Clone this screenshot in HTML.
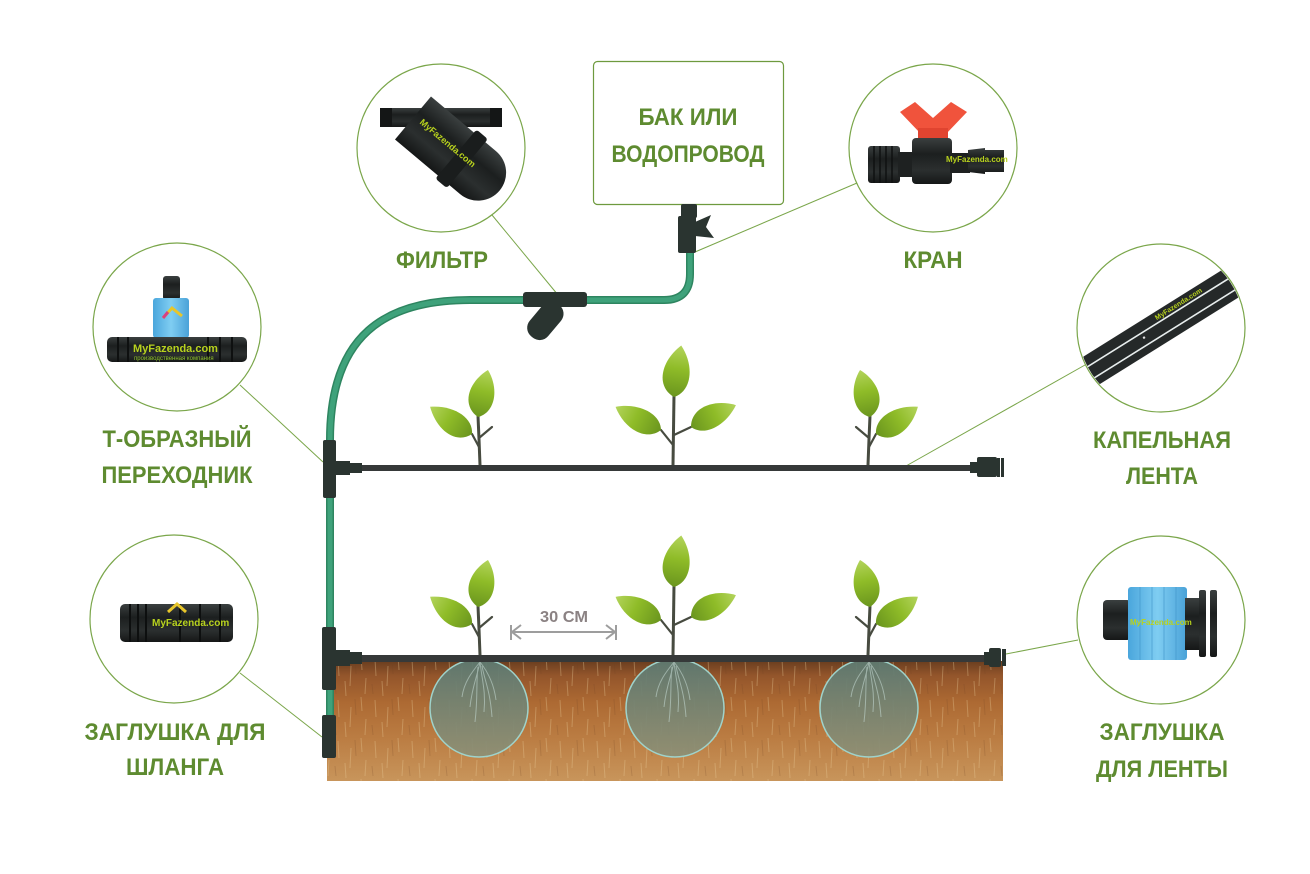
<!DOCTYPE html>
<html><head><meta charset="utf-8"><style>
html,body{margin:0;padding:0;background:#fff;}
svg{display:block;}
.lb{font-family:"Liberation Sans","DejaVu Sans",sans-serif;font-weight:bold;font-size:24px;fill:#5e8b30;}
.lg{font-family:"Liberation Sans","DejaVu Sans",sans-serif;font-weight:bold;fill:#b8d21e;}
</style></head><body>
<svg width="1310" height="874" viewBox="0 0 1310 874" xmlns="http://www.w3.org/2000/svg">
<defs>
<linearGradient id="soil" x1="0" y1="0" x2="0" y2="1">
<stop offset="0" stop-color="#6a3e1f"/>
<stop offset="0.12" stop-color="#93552b"/>
<stop offset="0.35" stop-color="#ad6a33"/>
<stop offset="0.65" stop-color="#bb7d43"/>
<stop offset="1" stop-color="#c8955b"/>
</linearGradient>
<linearGradient id="leaf" x1="0" y1="0" x2="1" y2="0">
<stop offset="0" stop-color="#6a951e"/>
<stop offset="0.55" stop-color="#8fbc28"/>
<stop offset="1" stop-color="#b3d45c"/>
</linearGradient>
<linearGradient id="wet" x1="0" y1="0" x2="0" y2="1">
<stop offset="0" stop-color="#5d7a72"/>
<stop offset="1" stop-color="#8e8f74"/>
</linearGradient>
<linearGradient id="blk" x1="0" y1="0" x2="0" y2="1">
<stop offset="0" stop-color="#3a3f3f"/>
<stop offset="0.35" stop-color="#1c1f1f"/>
<stop offset="0.7" stop-color="#2b2f2f"/>
<stop offset="1" stop-color="#151717"/>
</linearGradient>
<linearGradient id="blue" x1="0" y1="0" x2="1" y2="0">
<stop offset="0" stop-color="#4aa6dc"/>
<stop offset="0.5" stop-color="#7fcdf2"/>
<stop offset="1" stop-color="#4aa2d8"/>
</linearGradient>
<pattern id="streak" width="37" height="41" patternUnits="userSpaceOnUse">
<path d="M5 3 L6 20 M18 10 L17 30 M28 0 L29 14 M12 25 L13 40 M33 22 L32 38" stroke="#e8cc98" stroke-width="1" opacity="0.35"/>
<path d="M22 2 L23 18 M2 28 L3 38" stroke="#6a3e1f" stroke-width="1" opacity="0.2"/>
</pattern>
<clipPath id="c4"><circle cx="1161" cy="328" r="83"/></clipPath>

<g id="pS">
<path d="M-1 -18 L-8 -31 M-1 -27 L12 -38" stroke="#474b40" stroke-width="2.2" fill="none" stroke-linecap="round"/>
<path d="M0 0 L-1 -26 L-2 -49" stroke="#474b40" stroke-width="3" fill="none"/>
<g transform="translate(-8,-31) rotate(-147)"><path d="M0 0 C8 -18 32 -16 50 0 C32 14 8 15 0 0Z" fill="url(#leaf)"/></g>
<g transform="translate(-2,-48) rotate(-78)"><path d="M0 0 C8 -19 32 -17 48 0 C32 15 8 16 0 0Z" fill="url(#leaf)"/></g>
</g>
<g id="pM">
<path d="M0 -20 L-12 -35 M1 -30 L18 -38" stroke="#474b40" stroke-width="2.2" fill="none" stroke-linecap="round"/>
<path d="M0 0 L1 -70" stroke="#474b40" stroke-width="3" fill="none"/>
<g transform="translate(1,-68) rotate(-82)"><path d="M0 0 C8 -20 34 -18 52 0 C34 16 8 17 0 0Z" fill="url(#leaf)"/></g>
<g transform="translate(-12,-35) rotate(-153)"><path d="M0 0 C8 -17 33 -16 51 0 C33 14 8 15 0 0Z" fill="url(#leaf)"/></g>
<g transform="translate(18,-38) rotate(-26)"><path d="M0 0 C8 -17 32 -16 50 0 C32 14 8 15 0 0Z" fill="url(#leaf)"/></g>
</g>
<g id="roots" stroke="#c2d6cf" stroke-width="1" fill="none" opacity="0.6">
<path d="M0 0 C-3 15 -8 25 -10 45 M0 0 C2 18 6 30 4 50 M0 0 C-8 10 -16 20 -18 35 M0 0 C8 10 14 22 16 38 M-2 5 C-4 20 -2 35 -5 60 M2 4 C5 20 10 28 12 55"/>
</g>
</defs>

<!-- Product circles -->
<g fill="#fff" stroke="#7aa64a" stroke-width="1.2">
<circle cx="441" cy="148" r="84"/>
<circle cx="933" cy="148" r="84"/>
<circle cx="177" cy="327" r="84"/>
<circle cx="1161" cy="328" r="84"/>
<circle cx="174" cy="619" r="84"/>
<circle cx="1161" cy="620" r="84"/>
</g>

<!-- Leader lines -->
<g stroke="#7aa64a" stroke-width="1" fill="none">
<line x1="492" y1="215" x2="558" y2="295"/>
<line x1="857" y1="183" x2="695" y2="252"/>
<line x1="240" y1="385" x2="323" y2="462"/>
<line x1="1085" y1="365" x2="906" y2="466"/>
<line x1="240" y1="673" x2="322" y2="737"/>
<line x1="1078" y1="640" x2="1006" y2="654"/>
</g>

<!-- Tank box -->
<rect x="593.5" y="61.5" width="190" height="143" rx="4" fill="#fff" stroke="#6e9a3e" stroke-width="1.2"/>

<!-- Labels -->
<g class="lb" text-anchor="middle">
<text x="442" y="268" textLength="92" lengthAdjust="spacingAndGlyphs">ФИЛЬТР</text>
<text x="688" y="125" textLength="99" lengthAdjust="spacingAndGlyphs">БАК ИЛИ</text>
<text x="688" y="162" textLength="153" lengthAdjust="spacingAndGlyphs">ВОДОПРОВОД</text>
<text x="933" y="268" textLength="59" lengthAdjust="spacingAndGlyphs">КРАН</text>
<text x="1162" y="448" textLength="138" lengthAdjust="spacingAndGlyphs">КАПЕЛЬНАЯ</text>
<text x="1162" y="484" textLength="72" lengthAdjust="spacingAndGlyphs">ЛЕНТА</text>
<text x="177" y="447" textLength="149" lengthAdjust="spacingAndGlyphs">Т-ОБРАЗНЫЙ</text>
<text x="177" y="483" textLength="151" lengthAdjust="spacingAndGlyphs">ПЕРЕХОДНИК</text>
<text x="175" y="740" textLength="181" lengthAdjust="spacingAndGlyphs">ЗАГЛУШКА ДЛЯ</text>
<text x="175" y="775" textLength="98" lengthAdjust="spacingAndGlyphs">ШЛАНГА</text>
<text x="1162" y="740" textLength="125" lengthAdjust="spacingAndGlyphs">ЗАГЛУШКА</text>
<text x="1162" y="777" textLength="132" lengthAdjust="spacingAndGlyphs">ДЛЯ ЛЕНТЫ</text>
</g>

<!-- Filter product -->
<g>
<rect x="380" y="108" width="122" height="19" rx="3" fill="url(#blk)"/>
<rect x="380" y="108" width="12" height="19" fill="#141616"/>
<rect x="490" y="108" width="12" height="19" fill="#141616"/>
<g transform="translate(413,118) rotate(40)">
<path d="M0 -28 L85 -28 A28 28 0 0 1 85 28 L0 28 Z" fill="url(#blk)"/>
<rect x="56" y="-32" width="15" height="64" rx="3" fill="#1a1d1d"/>
<text x="8" y="0" class="lg" font-size="9">MyFazenda.com</text>
</g>
</g>

<!-- Tap product -->
<g>
<path d="M900 112 L915 102 L933 118 L951 102 L967 112 L946 134 L921 134 Z" fill="#f0533c"/>
<rect x="918" y="128" width="30" height="12" fill="#e04430"/>
<rect x="868" y="146" width="32" height="37" rx="3" fill="url(#blk)"/>
<path d="M874 146 V183 M880 146 V183 M886 146 V183 M892 146 V183" stroke="#0f1111" stroke-width="1.5"/>
<rect x="898" y="152" width="16" height="25" fill="#1e2121"/>
<rect x="912" y="138" width="40" height="46" rx="4" fill="url(#blk)"/>
<rect x="950" y="153" width="20" height="20" fill="#1e2121"/>
<path d="M968 150 L985 148 L985 174 L968 172 Z M984 150 L1004 150 L1004 172 L984 172 Z" fill="url(#blk)"/>
<text x="946" y="162" class="lg" font-size="8">MyFazenda.com</text>
</g>

<!-- T-adapter product -->
<g>
<rect x="163" y="276" width="17" height="24" rx="3" fill="url(#blk)"/>
<rect x="153" y="298" width="36" height="40" rx="3" fill="url(#blue)"/>
<rect x="107" y="337" width="140" height="25" rx="5" fill="url(#blk)"/>
<path d="M118 337 V362 M128 337 V362 M208 337 V362 M220 337 V362 M232 337 V362" stroke="#0e1010" stroke-width="2"/>
<path d="M163 318 L172 308 L182 316" stroke="#e8c62a" stroke-width="3" fill="none"/>
<path d="M163 318 L168 312" stroke="#d94080" stroke-width="3"/>
<text x="133" y="352" class="lg" font-size="11" fill="#8fc12c">MyFazenda.com</text>
<text x="134" y="360" font-family="Liberation Sans, sans-serif" font-size="6" fill="#8fc12c">производственная компания</text>
</g>

<!-- Drip tape product -->
<g clip-path="url(#c4)">
<g transform="translate(1161,327) rotate(-32)">
<rect x="-130" y="-16" width="260" height="32" fill="#252929"/>
<rect x="-130" y="-6" width="260" height="1.6" fill="#e8eeee"/>
<rect x="-130" y="7" width="260" height="1.6" fill="#e8eeee"/>
<circle cx="-20" cy="0" r="1.2" fill="#ddd"/>
<text x="0" y="-8" class="lg" font-size="7">MyFazenda.com</text>
</g>
</g>

<!-- Hose plug product -->
<g>
<rect x="120" y="604" width="113" height="38" rx="5" fill="url(#blk)"/>
<path d="M130 604 V642 M138 604 V642 M146 604 V642 M180 604 V642 M200 604 V642 M220 604 V642" stroke="#0d0f0f" stroke-width="2"/>
<path d="M168 612 L177 604 L186 612" stroke="#e8c62a" stroke-width="3" fill="none"/>
<text x="152" y="626" class="lg" font-size="10" fill="#8fc12c">MyFazenda.com</text>
</g>

<!-- Tape plug product -->
<g>
<rect x="1103" y="600" width="28" height="40" rx="4" fill="url(#blk)"/>
<rect x="1128" y="587" width="59" height="73" rx="3" fill="url(#blue)"/>
<path d="M1140 587 V660 M1152 587 V660 M1164 587 V660 M1176 587 V660" stroke="#3f93c8" stroke-width="1" opacity="0.6"/>
<rect x="1185" y="598" width="16" height="52" fill="url(#blk)"/>
<rect x="1199" y="590" width="7" height="67" rx="2" fill="url(#blk)"/>
<rect x="1210" y="590" width="7" height="67" rx="2" fill="url(#blk)"/>
<text x="1130" y="625" class="lg" font-size="8" fill="#c8d820">MyFazenda.com</text>
</g>

<!-- Soil -->
<rect x="327" y="661" width="676" height="120" fill="url(#soil)"/>
<rect x="327" y="661" width="676" height="120" fill="url(#streak)"/>

<!-- Wet zones -->
<g fill="url(#wet)" fill-opacity="0.93" stroke="#9fd3cb" stroke-width="1.5">
<circle cx="479" cy="708" r="49"/>
<circle cx="675" cy="708" r="49"/>
<circle cx="869" cy="708" r="49"/>
</g>
<use href="#roots" x="480" y="662"/>
<use href="#roots" x="674" y="662"/>
<use href="#roots" x="869" y="662"/>

<!-- Hose -->
<path d="M690 252 L690 274 Q690 300 664 300 L470 300 C385 300 330 335 330 440 L330 720" stroke="#2e8560" stroke-width="8" fill="none"/>
<path d="M690 252 L690 274 Q690 300 664 300 L470 300 C385 300 330 335 330 440 L330 720" stroke="#3fa27b" stroke-width="5" fill="none"/>

<!-- Inline filter -->
<g fill="#2a3430">
<rect x="523" y="292" width="64" height="15" rx="3"/>
<g transform="translate(546,320) rotate(40)"><rect x="-12" y="-20" width="24" height="42" rx="11"/></g>
</g>

<!-- Tap fitting under tank -->
<g fill="#2a3430">
<rect x="681" y="204" width="16" height="14" rx="2"/>
<rect x="678" y="216" width="18" height="37" rx="2"/>
<path d="M695 222 L711 215 L706 227 L714 238 L695 236 Z"/>
</g>

<!-- Drip lines -->
<rect x="355" y="465" width="620" height="6" fill="#363939"/>
<rect x="355" y="655" width="632" height="7" fill="#363939"/>
<!-- End plugs -->
<g fill="#2a3430">
<rect x="970" y="462" width="8" height="11"/>
<rect x="977" y="457" width="20" height="20" rx="2"/>
<rect x="997" y="458" width="3" height="19"/>
<rect x="1001" y="458" width="3" height="19"/>
<rect x="984" y="652" width="6" height="13"/>
<rect x="989" y="648" width="12" height="19" rx="2"/>
<rect x="1002" y="649" width="4" height="17"/>
</g>

<!-- Plants -->
<use href="#pS" x="480" y="465"/>
<use href="#pM" x="673" y="465"/>
<g transform="translate(868,465) scale(-1,1)"><use href="#pS"/></g>
<use href="#pS" x="480" y="655"/>
<use href="#pM" x="673" y="655"/>
<g transform="translate(868,655) scale(-1,1)"><use href="#pS"/></g>

<!-- T connectors on hose -->
<g fill="#2a3430">
<rect x="323" y="440" width="13" height="58" rx="2"/>
<rect x="335" y="461" width="15" height="14"/>
<rect x="349" y="463" width="13" height="10"/>
<rect x="322" y="627" width="14" height="63" rx="2"/>
<rect x="335" y="650" width="15" height="16"/>
<rect x="349" y="652" width="13" height="12"/>
<rect x="322" y="715" width="14" height="43" rx="2"/>
</g>

<!-- 30 cm dimension -->
<g stroke="#9d9d9d" stroke-width="2" fill="none">
<line x1="511" y1="632" x2="616" y2="632"/>
<line x1="511" y1="625" x2="511" y2="640"/>
<line x1="616" y1="625" x2="616" y2="640"/>
<path d="M521 625 L512 632 L521 639 M606 625 L615 632 L606 639"/>
</g>
<text x="564" y="622" text-anchor="middle" font-family="Liberation Sans, DejaVu Sans, sans-serif" font-weight="bold" font-size="16" fill="#8b8283" textLength="48" lengthAdjust="spacingAndGlyphs">30 СМ</text>
</svg>
</body></html>
